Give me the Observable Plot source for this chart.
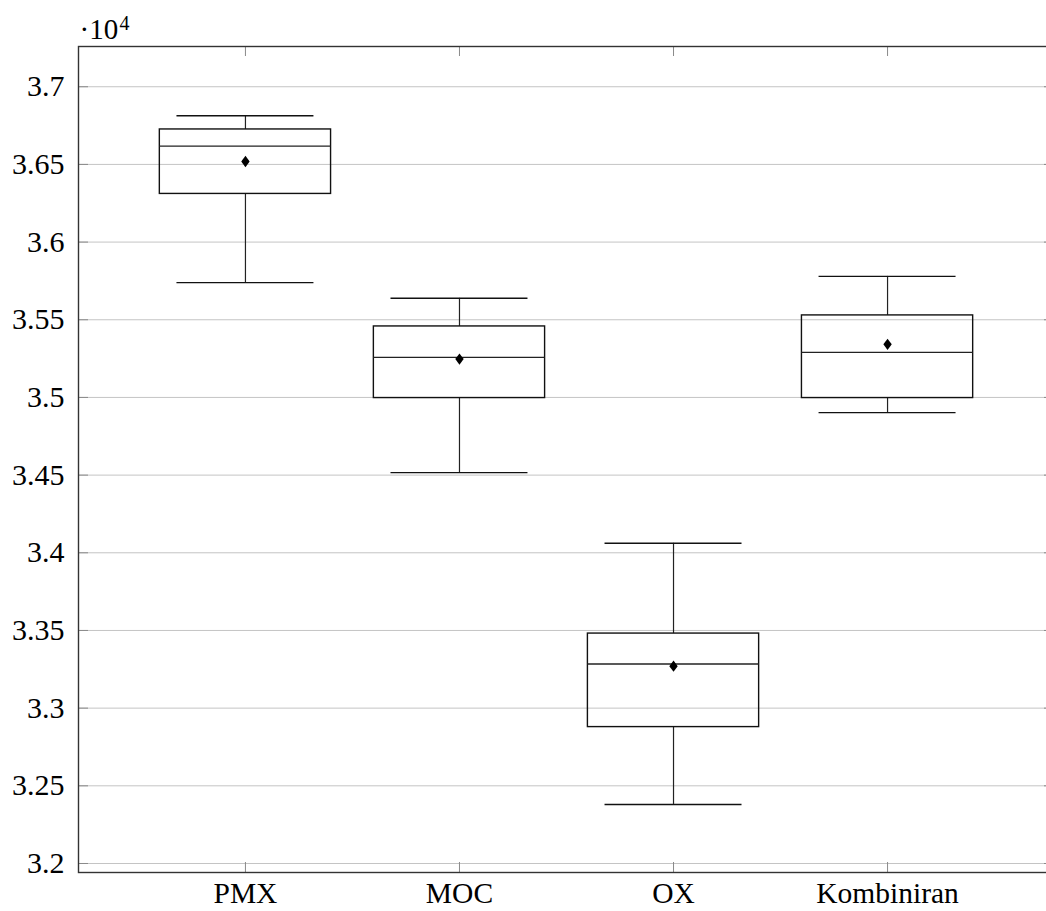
<!DOCTYPE html>
<html>
<head>
<meta charset="utf-8">
<script src="https://cdn.jsdelivr.net/npm/d3@7"></script>
<script src="https://cdn.jsdelivr.net/npm/@observablehq/plot@0.6"></script>
<style>
  html, body { margin: 0; padding: 0; background: #fff; overflow: hidden; }
  #wrap { position: relative; width: 1046px; height: 911px; overflow: hidden; }
  #wrap svg { max-width: none !important; position: absolute; left: 0; top: 0; }
  svg text { font-family: "Liberation Serif", serif; }
</style>
</head>
<body>
<div id="wrap"></div>
<script>
const categories = ["PMX", "MOC", "OX", "Kombiniran"];
const lowerWhisker = [35739, 34516, 32380, 34902];
const lowerQuartile = [36310, 34996, 32878, 34996];
const median = [36618, 35258, 33284, 35290];
const upperQuartile = [36725, 35457, 33480, 35528];
const upperWhisker = [36813, 35638, 34061, 35779];
const mean = [36519, 35247, 33270, 35342];
const yTicks = [32000, 32500, 33000, 33500, 34000, 34500, 35000, 35500, 36000, 36500, 37000];
const scaleBase = "·10";
const scaleExp = "4";

const data = categories.map((c, i) => ({
  cat: c, pos: i + 1,
  lw: lowerWhisker[i], q1: lowerQuartile[i], med: median[i],
  q3: upperQuartile[i], uw: upperWhisker[i], mean: mean[i]
}));
const positions = data.map(d => d.pos);

const W = 1060, ML = 78, MR = 6, MT = 46, MB = 39, H = 911;
const plotW = W - ML - MR, plotH = H - MT - MB, tick = 10;
const boxHalf = 0.4, capHalf = 0.32;

const tallDiamond = {
  draw(ctx, size) {
    const r = Math.sqrt(size / Math.PI);
    ctx.moveTo(0, -r * 1.35);
    ctx.lineTo(r, 0);
    ctx.lineTo(0, r * 1.35);
    ctx.lineTo(-r, 0);
    ctx.closePath();
  }
};

const chart = Plot.plot({
  width: W, height: H,
  marginLeft: ML, marginRight: MR, marginTop: MT, marginBottom: MB,
  style: { fontSize: "30px", fontFamily: "Liberation Serif, serif", background: "white", color: "black", maxWidth: "none" },
  x: { type: "linear", domain: [0.22, 4.78] },
  y: { domain: [31942, 37259] },
  marks: [
    Plot.ruleY(yTicks, { stroke: "#c4c4c4", strokeWidth: 1 }),
    // inward ticks
    Plot.ruleY(yTicks, { stroke: "#8a8a8a", insetRight: plotW - tick }),
    Plot.ruleY(yTicks, { stroke: "#8a8a8a", insetLeft: plotW - tick }),
    Plot.ruleX(positions, { stroke: "#8a8a8a", insetTop: plotH - tick }),
    Plot.ruleX(positions, { stroke: "#8a8a8a", insetBottom: plotH - tick }),
    // whiskers
    Plot.ruleX(data, { x: "pos", y1: "lw", y2: "q1", stroke: "#222", strokeWidth: 1.2 }),
    Plot.ruleX(data, { x: "pos", y1: "q3", y2: "uw", stroke: "#222", strokeWidth: 1.2 }),
    Plot.ruleY(data, { y: "lw", x1: d => d.pos - capHalf, x2: d => d.pos + capHalf, stroke: "#111", strokeWidth: 1.4 }),
    Plot.ruleY(data, { y: "uw", x1: d => d.pos - capHalf, x2: d => d.pos + capHalf, stroke: "#111", strokeWidth: 1.4 }),
    // boxes
    Plot.rect(data, { x1: d => d.pos - boxHalf, x2: d => d.pos + boxHalf, y1: "q1", y2: "q3", fill: "white", fillOpacity: 0, stroke: "#111", strokeWidth: 1.4 }),
    Plot.ruleY(data, { y: "med", x1: d => d.pos - boxHalf, x2: d => d.pos + boxHalf, stroke: "#222", strokeWidth: 1.4 }),
    Plot.dot(data, { x: "pos", y: "mean", symbol: tallDiamond, r: 4.2, fill: "black", stroke: "none" }),
    Plot.frame({ stroke: "#333", strokeWidth: 1.4 }),
    Plot.axisY(yTicks, { anchor: "left", tickSize: 0, tickPadding: 14, tickFormat: d => String(+(d / 1e4).toFixed(2)), fontSize: 30, label: null }),
    Plot.axisX(positions, { anchor: "bottom", tickSize: 0, tickPadding: 10, tickFormat: p => categories[p - 1], fontSize: 29.5, label: null }),
    // axis multiplier label
    Plot.text([scaleBase], { frameAnchor: "top-left", textAnchor: "start", lineAnchor: "bottom", dx: 1, dy: -8, fontSize: 29, fill: "black" }),
    Plot.text([scaleExp], { frameAnchor: "top-left", textAnchor: "start", lineAnchor: "bottom", dx: 41, dy: -17, fontSize: 20, fill: "black" })
  ]
});
document.getElementById("wrap").appendChild(chart);
</script>
</body>
</html>
